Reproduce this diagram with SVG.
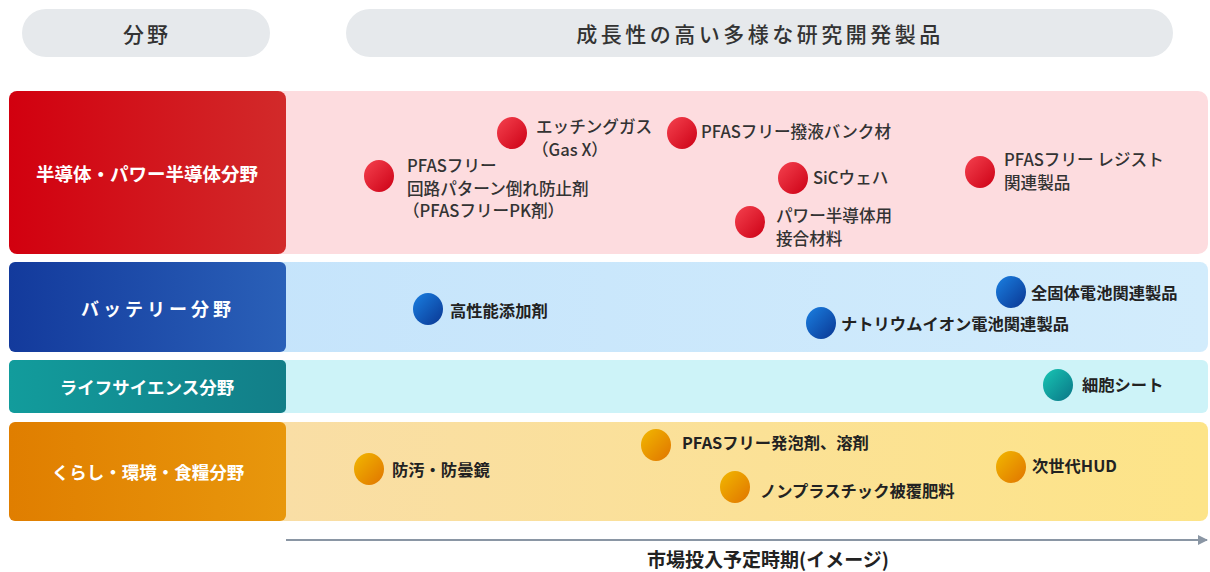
<svg xmlns="http://www.w3.org/2000/svg" width="1210" height="572" viewBox="0 0 1210 572">
<style>
.hdr{fill:#e6e9ec}
.ht{font-family:"Noto Sans CJK JP","Noto Sans",sans-serif;font-weight:500;fill:#333;text-anchor:middle;dominant-baseline:central}
.lab{font-family:"Noto Sans CJK JP","Noto Sans",sans-serif;font-weight:700;fill:#fff;text-anchor:middle;dominant-baseline:central}
.t1{font-family:"Noto Sans CJK JP","Noto Sans",sans-serif;font-weight:500;font-size:16.6px;fill:#333}
.t2{font-family:"Noto Sans CJK JP","Noto Sans",sans-serif;font-weight:700;font-size:16.3px;fill:#222}
.ax{font-family:"Noto Sans CJK JP","Noto Sans",sans-serif;font-weight:700;font-size:19px;fill:#222;text-anchor:middle}
</style>
<defs>
<linearGradient id="gRed" x1="0" x2="1"><stop offset="0" stop-color="#d2000f"/><stop offset="1" stop-color="#d22a2a"/></linearGradient>
<linearGradient id="gBlue" x1="0" x2="1"><stop offset="0" stop-color="#133a9c"/><stop offset="1" stop-color="#2a60b8"/></linearGradient>
<linearGradient id="gTeal" x1="0" x2="1"><stop offset="0" stop-color="#129c9c"/><stop offset="1" stop-color="#127e88"/></linearGradient>
<linearGradient id="gOrg" x1="0" x2="1"><stop offset="0" stop-color="#e07e00"/><stop offset="1" stop-color="#e8970c"/></linearGradient>
<linearGradient id="pBlue" x1="0" x2="1"><stop offset="0" stop-color="#c2e2fb"/><stop offset="1" stop-color="#d2ecfc"/></linearGradient>
<linearGradient id="pOrg" x1="0" x2="1"><stop offset="0" stop-color="#f8dcae"/><stop offset="1" stop-color="#fde488"/></linearGradient>
<linearGradient id="bRed" x1="0" y1="0" x2="1" y2="1"><stop offset="0" stop-color="#f5424f"/><stop offset="1" stop-color="#cc0015"/></linearGradient>
<linearGradient id="bBlue" x1="0" y1="0" x2="1" y2="1"><stop offset="0" stop-color="#1a80e2"/><stop offset="1" stop-color="#0a3692"/></linearGradient>
<linearGradient id="bTeal" x1="0" y1="0" x2="1" y2="1"><stop offset="0" stop-color="#18c6b4"/><stop offset="1" stop-color="#0a7586"/></linearGradient>
<linearGradient id="bOrg" x1="0" y1="0" x2="1" y2="1"><stop offset="0" stop-color="#f2b800"/><stop offset="1" stop-color="#e07400"/></linearGradient>
<marker id="arr" viewBox="0 0 10 10" refX="9" refY="5" markerWidth="10" markerHeight="10" markerUnits="userSpaceOnUse" orient="auto"><path d="M0,0 L10,5 L0,10 z" fill="#8a96a4"/></marker>
</defs>

<g id="header-field"><rect class="hdr" x="22" y="9" width="248" height="48" rx="24"/><text class="ht" x="147" y="33" font-size="21" letter-spacing="3">分野</text></g>
<g id="header-products"><rect class="hdr" x="346" y="9" width="827" height="48" rx="24"/><text class="ht" x="760" y="33" font-size="21" letter-spacing="3.5">成長性の高い多様な研究開発製品</text></g>

<g id="row-semiconductor">
<rect x="9" y="91" width="1199" height="163" rx="10" fill="#fddcdf"/>
<rect x="9" y="91" width="277" height="163" rx="8" fill="url(#gRed)"/>
<text class="lab" x="147" y="173" font-size="18.5">半導体・パワー半導体分野</text>
</g>
<g id="row-battery">
<rect x="9" y="262" width="1199" height="90" rx="8" fill="url(#pBlue)"/>
<rect x="9" y="262" width="277" height="90" rx="6" fill="url(#gBlue)"/>
<text class="lab" x="158" y="308" font-size="18" letter-spacing="4">バッテリー分野</text>
</g>
<g id="row-lifescience">
<rect x="9" y="360" width="1199" height="53" rx="6" fill="#cdf3f8"/>
<rect x="9" y="360" width="277" height="53" rx="5" fill="url(#gTeal)"/>
<text class="lab" x="147" y="386" font-size="17.5">ライフサイエンス分野</text>
</g>
<g id="row-living">
<rect x="9" y="422" width="1199" height="99" rx="8" fill="url(#pOrg)"/>
<rect x="9" y="422" width="277" height="99" rx="6" fill="url(#gOrg)"/>
<text class="lab" x="148" y="471" font-size="17.5">くらし・環境・食糧分野</text>
</g>

<g id="connectors">
<line x1="286" y1="540" x2="1207" y2="540" stroke="#8a96a4" stroke-width="2" marker-end="url(#arr)"/>
</g>
<text class="ax" x="768" y="567">市場投入予定時期(イメージ)</text>

<g id="p-pk"><ellipse cx="379" cy="176" rx="15" ry="16" fill="url(#bRed)"/><text class="t1" x="407" y="172">PFASフリー<tspan x="407" dy="22.5">回路パターン倒れ防止剤</tspan><tspan x="403" dy="22.5">（PFASフリーPK剤）</tspan></text></g>
<g id="p-gasx"><ellipse cx="512" cy="133" rx="15" ry="16" fill="url(#bRed)"/><text class="t1" x="536" y="133">エッチングガス<tspan x="532" dy="22.5">（Gas X）</tspan></text></g>
<g id="p-bank"><ellipse cx="682" cy="133" rx="15" ry="16" fill="url(#bRed)"/><text class="t1" x="701" y="138">PFASフリー撥液バンク材</text></g>
<g id="p-sic"><ellipse cx="793" cy="178" rx="15" ry="16" fill="url(#bRed)"/><text class="t1" x="813" y="184">SiCウェハ</text></g>
<g id="p-bond"><ellipse cx="750" cy="222" rx="15" ry="16" fill="url(#bRed)"/><text class="t1" x="776" y="222">パワー半導体用<tspan x="776" dy="22.5">接合材料</tspan></text></g>
<g id="p-resist"><ellipse cx="980" cy="172" rx="15" ry="16" fill="url(#bRed)"/><text class="t1" x="1004" y="166">PFASフリー レジスト<tspan x="1004" dy="22.5">関連製品</tspan></text></g>

<g id="p-additive"><ellipse cx="428" cy="309" rx="15" ry="16" fill="url(#bBlue)"/><text class="t2" x="450" y="317">高性能添加剤</text></g>
<g id="p-ssb"><ellipse cx="1011" cy="292" rx="15" ry="16" fill="url(#bBlue)"/><text class="t2" x="1031" y="299">全固体電池関連製品</text></g>
<g id="p-naion"><ellipse cx="821" cy="323" rx="15" ry="16" fill="url(#bBlue)"/><text class="t2" x="841" y="330">ナトリウムイオン電池関連製品</text></g>

<g id="p-cell"><ellipse cx="1058" cy="385" rx="15" ry="16" fill="url(#bTeal)"/><text class="t2" x="1082" y="391">細胞シート</text></g>

<g id="p-mirror"><ellipse cx="369" cy="469" rx="15" ry="16" fill="url(#bOrg)"/><text class="t2" x="392" y="476">防汚・防曇鏡</text></g>
<g id="p-foam"><ellipse cx="656" cy="445" rx="15" ry="16" fill="url(#bOrg)"/><text class="t2" x="682" y="449">PFASフリー発泡剤、溶剤</text></g>
<g id="p-fert"><ellipse cx="735" cy="487" rx="15" ry="16" fill="url(#bOrg)"/><text class="t2" x="760" y="497">ノンプラスチック被覆肥料</text></g>
<g id="p-hud"><ellipse cx="1011" cy="467" rx="15" ry="16" fill="url(#bOrg)"/><text class="t2" x="1032" y="472">次世代HUD</text></g>
</svg>
